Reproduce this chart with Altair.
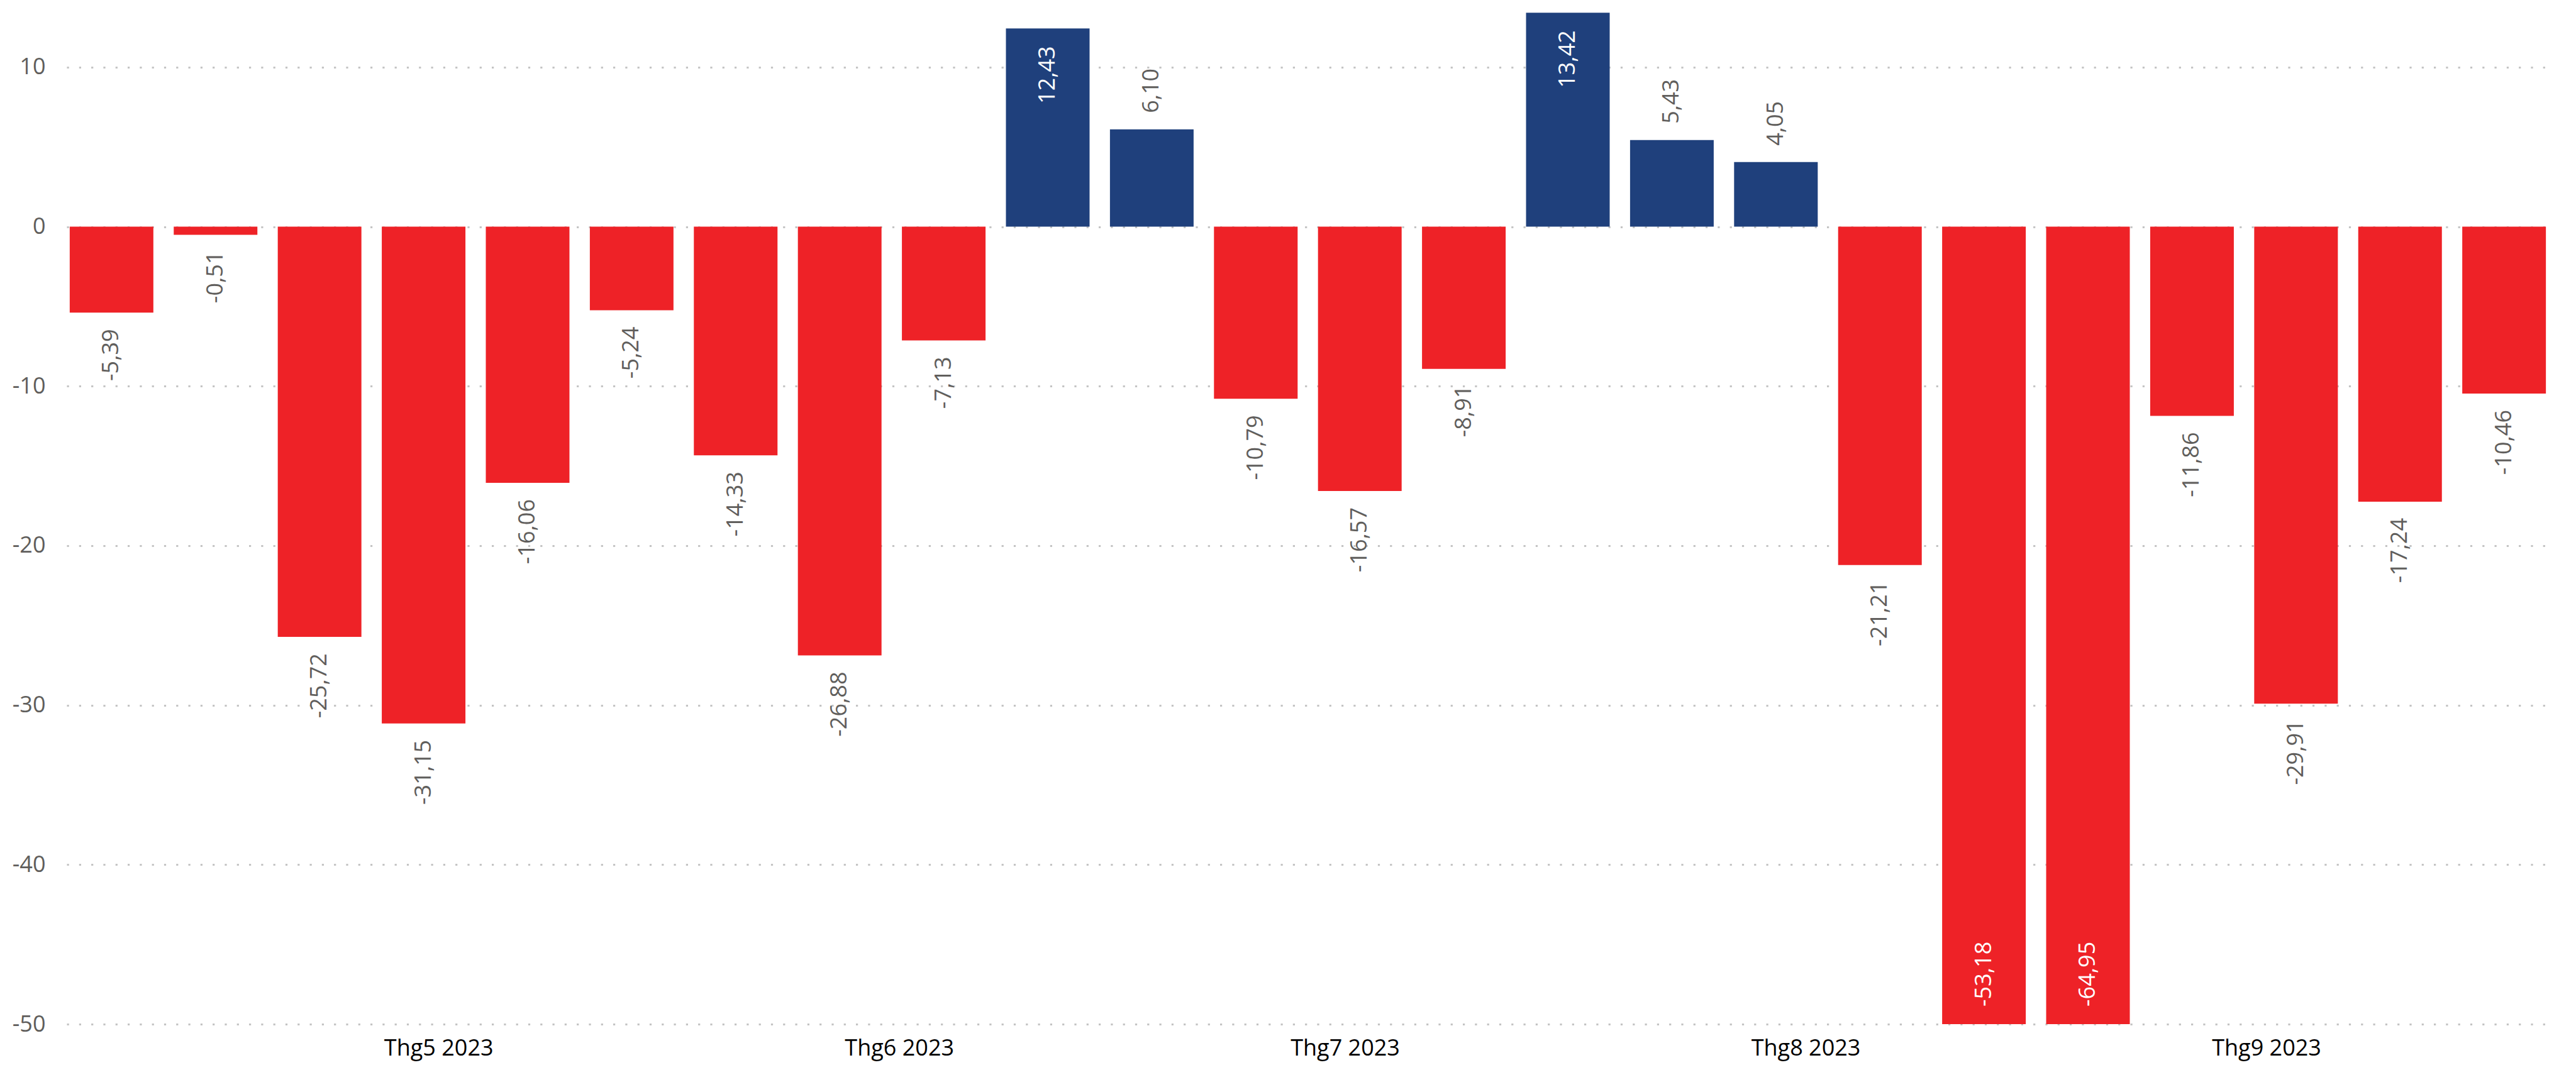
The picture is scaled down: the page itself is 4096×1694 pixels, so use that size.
import altair as alt
import pandas as pd

# ---- data ----
week_dates = [
    "2023-04-09", "2023-04-16", "2023-04-23", "2023-04-30",
    "2023-05-07", "2023-05-14", "2023-05-21", "2023-05-28",
    "2023-06-04", "2023-06-11", "2023-06-18", "2023-06-25",
    "2023-07-02", "2023-07-09", "2023-07-16", "2023-07-23", "2023-07-30",
    "2023-08-06", "2023-08-13", "2023-08-20", "2023-08-27",
    "2023-09-03", "2023-09-10", "2023-09-17",
]
values = [
    -5.39, -0.51, -25.72, -31.15,
    -16.06, -5.24, -14.33, -26.88,
    -7.13, 12.43, 6.10, -10.79,
    -16.57, -8.91, 13.42, 5.43, 4.05,
    -21.21, -53.18, -64.95, -11.86,
    -29.91, -17.24, -10.46,
]
y_ticks = [-50, -40, -30, -20, -10, 0, 10]
month_ticks = [(2023, 5), (2023, 6), (2023, 7), (2023, 8), (2023, 9)]

Y_MIN, Y_MAX = -50, 13.9
RED = "#EE2227"
BLUE = "#1F407C"
FONT = "Open Sans"

df = pd.DataFrame({"date": [d + "T00:00:00Z" for d in week_dates], "value": values})
df["label"] = [f"{v:.2f}".replace(".", ",") for v in values]
df["sign"] = ["pos" if v >= 0 else "neg" for v in values]
df["ylab"] = df["value"].clip(lower=Y_MIN)


def place(v):
    if v >= 0:
        return "in_pos" if v > 10 else "out_pos"
    return "in_neg" if v < Y_MIN else "out_neg"


df["place"] = [place(v) for v in values]

half = pd.Timedelta(hours=67.4)
d0 = pd.Timestamp(week_dates[0], tz="UTC") - half
d1 = pd.Timestamp(week_dates[-1], tz="UTC") + half
x_domain = [int(d0.value // 10**6), int(d1.value // 10**6)]

x_enc = alt.X(
    "date:T",
    scale=alt.Scale(type="utc", domain=x_domain),
    axis=alt.Axis(
        values=[alt.DateTime(year=y, month=m, date=1, utc=True) for y, m in month_ticks],
        labelExpr="'Thg' + (utcmonth(datum.value) + 1) + ' ' + utcyear(datum.value)",
        grid=False, domain=False, ticks=False, tickSize=0,
        labelPadding=21, labelFontSize=36, labelColor="#000000", labelFont=FONT,
        labelAngle=0, labelFlush=False, labelOverlap=False, title=None,
    ),
)

y_scale = alt.Scale(domain=[Y_MIN, Y_MAX], nice=False, zero=False)

base = alt.Chart(df)

bars = base.mark_bar(width=133, clip=True).encode(
    x=x_enc,
    y=alt.Y(
        "value:Q",
        scale=y_scale,
        axis=alt.Axis(
            values=y_ticks, grid=True, gridDash=[3.2, 16.1], gridColor="#C4C4C4",
            gridWidth=3.2, domain=False, ticks=False, tickSize=0,
            labelPadding=34, labelFontSize=36, labelColor="#605E5C", labelFont=FONT,
            labelExpr="'' + datum.value", title=None,
        ),
    ),
    y2=alt.datum(0),
    color=alt.Color("sign:N", scale=alt.Scale(domain=["neg", "pos"], range=[RED, BLUE]), legend=None),
)


def labels(kind, align, dx, color):
    return base.transform_filter(alt.datum.place == kind).mark_text(
        angle=270, align=align, baseline="middle", dx=dx,
        fontSize=36, font=FONT, color=color,
    ).encode(
        x=alt.X("date:T", scale=alt.Scale(type="utc", domain=x_domain)),
        y=alt.Y("ylab:Q", scale=y_scale),
        text="label:N",
    )


chart = alt.layer(
    bars,
    labels("out_neg", "right", -26, "#605E5C"),
    labels("out_pos", "left", 26, "#605E5C"),
    labels("in_pos", "right", -28, "#FFFFFF"),
    labels("in_neg", "left", 28, "#FFFFFF"),
).properties(
    width=3947, height=1621,
    autosize=alt.AutoSizeParams(type="none"),
    padding={"left": 98, "top": 0, "right": 35, "bottom": 60},
).configure_view(stroke=None)

chart.save("out.html", embed_options={"renderer": "svg", "actions": False})
